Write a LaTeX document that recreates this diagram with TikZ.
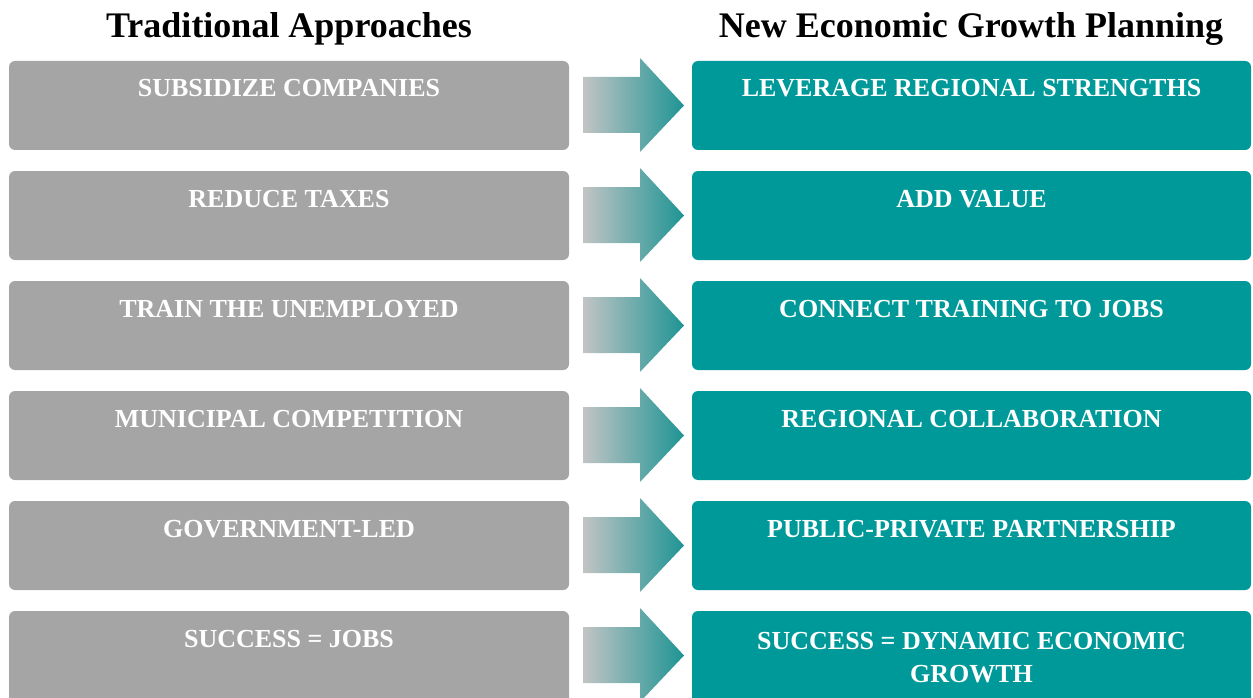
\documentclass[tikz,border=0pt]{standalone}
\usepackage{fontspec}
\setmainfont{Liberation Serif}
\definecolor{oldgray}{RGB}{165,165,165}
\definecolor{newteal}{RGB}{0,153,153}
\definecolor{arrowstart}{RGB}{194,196,196}
\definecolor{arrowend}{RGB}{30,148,148}
\begin{document}
\begin{tikzpicture}[x=1pt,y=-1pt,
  oldbox/.style={fill=oldgray, rounded corners=6pt, minimum width=560pt, minimum height=89pt, inner sep=0pt},
  newbox/.style={fill=newteal, rounded corners=6pt, minimum width=559pt, minimum height=89pt, inner sep=0pt},
  boxtext/.style={text=white, font=\fontsize{26}{33}\selectfont\bfseries, anchor=base, inner sep=0pt, align=center},
  headtext/.style={text=black, font=\fontsize{36}{40}\selectfont\bfseries, anchor=base, inner sep=0pt}]
\useasboundingbox (0,0) rectangle (1253,698);
\clip (0,0) rectangle (1253,698);

% column headings
\node[headtext] (hold) at (289,38) {Traditional Approaches};
\node[headtext] (hnew) at (971,38) {New Economic Growth Planning};

% one row: left box, gradient arrow, right box
\foreach \i/\old/\new in {
  1/SUBSIDIZE COMPANIES/LEVERAGE REGIONAL STRENGTHS,
  2/REDUCE TAXES/ADD VALUE,
  3/TRAIN THE UNEMPLOYED/CONNECT TRAINING TO JOBS,
  4/MUNICIPAL COMPETITION/REGIONAL COLLABORATION,
  5/GOVERNMENT-LED/PUBLIC-PRIVATE PARTNERSHIP}{
  \pgfmathsetmacro{\top}{61+110*(\i-1)}
  \node[oldbox] (old\i) at (289,\top+44.5) {};
  \node[newbox] (new\i) at (971.5,\top+44.5) {};
  \node[boxtext] (oldt\i) at (289,\top+36) {\old};
  \node[boxtext] (newt\i) at (971.5,\top+36) {\new};
  \shade[left color=arrowstart, right color=arrowend]
    (583,\top+16) -- (640,\top+16) -- (640,\top-3) -- (684,\top+44.5)
    -- (640,\top+91) -- (640,\top+72) -- (583,\top+72) -- cycle;
}

% last row runs past the lower edge
\node[oldbox, minimum height=110pt] (old6) at (289,611+55) {};
\node[newbox, minimum height=110pt] (new6) at (971.5,611+55) {};
\node[boxtext] (oldt6) at (289,647) {SUCCESS = JOBS};
\node[boxtext, anchor=north] (newt6) at (971.5,632.5) {SUCCESS = DYNAMIC ECONOMIC\\GROWTH};
\shade[left color=arrowstart, right color=arrowend]
  (583,627) -- (640,627) -- (640,608) -- (684,655.5)
  -- (640,702) -- (640,683) -- (583,683) -- cycle;
\end{tikzpicture}
\end{document}
